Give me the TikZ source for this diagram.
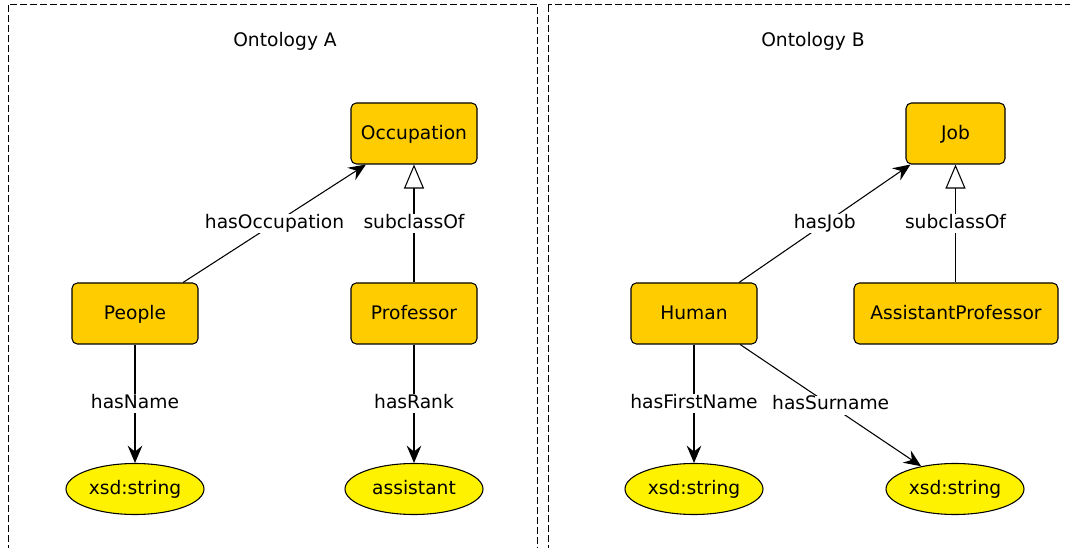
\documentclass[tikz,border=0pt]{standalone}
\usepackage{fontspec}
\setmainfont{DejaVu Sans}
\usetikzlibrary{positioning, arrows.meta, shapes.geometric}
\definecolor{clsfill}{HTML}{FFCC00}

\begin{document}
\begin{tikzpicture}[x=0.75pt, y=-0.75pt,
    font=\fontsize{14}{17}\selectfont,
    every node/.style={text height=1.06em, text depth=0.22em},
    cls/.style={draw, line width=0.8pt, rounded corners=4pt, fill=clsfill, minimum width=94.5pt, minimum height=45.75pt, inner sep=2pt},
    lit/.style={draw, ellipse, line width=0.8pt, fill=yellow, minimum width=103.5pt, minimum height=38.25pt, inner sep=0pt},
    prop/.style={line width=0.8pt, -{Stealth[length=13pt, width=11pt, inset=4.5pt]}},
    subof/.style={line width=0.8pt, -{Triangle[length=18pt, width=15pt, fill=white]}},
    lbl/.style={midway, fill=white, inner xsep=4pt, inner ysep=1.5pt, text height=0.9em},
    panel/.style={draw, line width=0.75pt, dash pattern=on 5pt off 2.5pt}]
    \clip (0,0) rectangle (1070,548);
    % Panels
    \draw [panel] (8.5,5) rectangle (537.5,560);
    \draw [panel] (548,5) rectangle (1080,560);
    \node (titleA) at (285,41) {Ontology A};
    \node (titleB) at (813,41) {Ontology B};
    % Ontology A
    \node (occ) [cls] at (414,133.5) {Occupation};
    \node (people) [cls] at (135,313.5) {People};
    \node (prof) [cls] at (414,313.5) {Professor};
    \node (strA) [lit] at (135,489) {xsd:string};
    \node (asst) [lit] at (414,489) {assistant};
    \draw [prop] (people) -- (occ) node [lbl] {hasOccupation};
    \draw [subof] (prof) -- (occ) node [lbl] {subclassOf};
    \draw [prop] (people) -- (strA) node [lbl] {hasName};
    \draw [prop] (prof) -- (asst) node [lbl] {hasRank};
    % Ontology B
    \node (job) [cls, minimum width=74.25pt] at (955.5,133.5) {Job};
    \node (human) [cls] at (694,313.5) {Human};
    \node (aprof) [cls, minimum width=153pt] at (956,313.5) {AssistantProfessor};
    \node (strB) [lit] at (694,489) {xsd:string};
    \node (strC) [lit] at (955,489) {xsd:string};
    \draw [prop] (human) -- (job) node [lbl] {hasJob};
    \draw [subof] (aprof.north -| job) -- (job) node [lbl] {subclassOf};
    \draw [prop] (human) -- (strB) node [lbl] {hasFirstName};
    \draw [prop] (human) -- (strC) node [lbl] {hasSurname};
\end{tikzpicture}
\end{document}
